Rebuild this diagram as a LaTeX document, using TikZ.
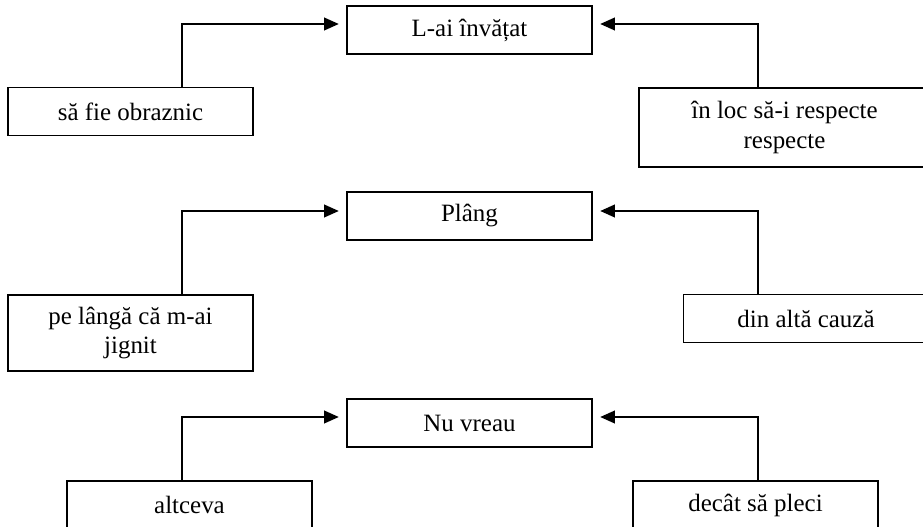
\documentclass[tikz,border=0pt]{standalone}
\usepackage{fontspec}
\setmainfont{Liberation Serif}
\usetikzlibrary{arrows.meta}

\begin{document}
\begin{tikzpicture}[x=0.75pt, y=-0.75pt, line width=1.3pt,
    font=\fontsize{18.7}{22}\selectfont,
    box/.style={draw, align=center, inner sep=0pt, minimum width=183.75pt, minimum height=36pt},
    arr/.style={-{Triangle[length=11pt, width=9.5pt]}}]
    \useasboundingbox (0,0) rectangle (923,527);
    \clip (0,0) rectangle (923,527);

    \node[box] (lai) at (469.5,30) {L-ai învățat};
    \node[box] (obraznic) at (130.5,111.5) {să fie obraznic};
    \node[box, minimum width=218pt, minimum height=59pt] (respect) at (784.5,127.5) {în loc să-i respecte\\respecte};

    \node[box] (plang) at (469.5,216) {Plâng};
    \node[box, minimum height=57pt] (jignit) at (130.5,333) {pe lângă că m-ai\\jignit};
    \node[box] (cauza) at (806,318.5) {din altă cauză};

    \node[box] (nuvreau) at (469.5,423) {Nu vreau};
    \node[box] (altceva) at (189.5,505) {altceva};
    \node[box] (pleci) at (755.5,505) {decât să pleci};

    \draw[arr] ([xshift=38.6pt]obraznic.north) |- ([xshift=-5.5pt,yshift=4.5pt]lai.west);
    \draw[arr] ([xshift=-19.9pt]respect.north) |- ([xshift=5.5pt,yshift=4.5pt]lai.east);

    \draw[arr] ([xshift=38.6pt]jignit.north) |- ([xshift=-5.5pt,yshift=3.75pt]plang.west);
    \draw[arr] ([xshift=-36pt]cauza.north) |- ([xshift=5.5pt,yshift=3.75pt]plang.east);

    \draw[arr] ([xshift=-5.6pt]altceva.north) |- ([xshift=-5.5pt,yshift=4.5pt]nuvreau.west);
    \draw[arr] ([xshift=1.9pt]pleci.north) |- ([xshift=5.5pt,yshift=4.5pt]nuvreau.east);
\end{tikzpicture}
\end{document}
